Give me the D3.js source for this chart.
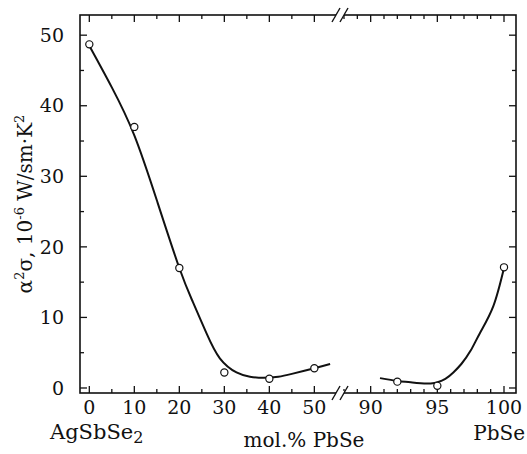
<!DOCTYPE html>
<html>
<head>
<meta charset="utf-8">
<script src="https://cdn.jsdelivr.net/npm/d3@7"></script>
<style>
  body { margin: 0; background: #fff; }
</style>
</head>
<body>
<div id="chart"></div>
<script>
// measured points (mol.% PbSe, power factor 10^-6 W/sm*K^2)
const pointX = [0, 10, 20, 30, 40, 50, 92, 95, 100];
const pointY = [48.7, 37.0, 17.0, 2.2, 1.3, 2.8, 0.9, 0.3, 17.1];

// hand-drawn fit line
const fitLeftX = [0, 5, 10, 15, 20, 23, 26, 29, 32.7, 35.7, 38.7, 42, 45, 50, 53.5];
const fitLeftY = [48.5, 42.6, 35.8, 26.6, 17.0, 12.2, 7.8, 4.2, 2.2, 1.6, 1.45, 1.6, 2.0, 2.8, 3.4];
const fitRightX = [90.7, 92, 93, 94.5, 95.6, 96.2, 96.8, 97.5, 98.2, 99.2, 100];
const fitRightY = [1.4, 1.0, 0.8, 0.65, 1.3, 2.2, 3.4, 5.3, 7.8, 11.6, 17.0];

const leftTicks = [0, 10, 20, 30, 40, 50];
const rightTicks = [90, 95, 100];
const yTicks = [0, 10, 20, 30, 40, 50];

const W = 527, H = 454;
const frame = { left: 80, right: 516, top: 15, bottom: 393 };
const breakX = 340;
// only DejaVu Serif resolves to a real serif face here
const serif = "DejaVu Serif, serif";

const svg = d3.select('#chart').append('svg')
    .attr('width', W).attr('height', H)
    .style('font-family', serif);

// two x scales either side of the break
const xL = d3.scaleLinear().domain([-2.07, 55.7]).range([frame.left, breakX]);
const xR = d3.scaleLinear().domain([87.7, 100.9]).range([breakX, frame.right]);
const xAny = v => v < 70 ? xL(v) : xR(v);
const y = d3.scaleLinear().domain([-0.71, 52.86]).range([frame.bottom, frame.top]);

// frame
svg.append('rect')
    .attr('x', frame.left).attr('y', frame.top)
    .attr('width', frame.right - frame.left).attr('height', frame.bottom - frame.top)
    .attr('fill', 'none').attr('stroke', '#111').attr('stroke-width', 1.6);

// inward ticks on all four sides
const tickG = svg.append('g').attr('stroke', '#111').attr('stroke-width', 1.3);
function xTick(px, len) {
    tickG.append('line').attr('x1', px).attr('x2', px).attr('y1', frame.bottom).attr('y2', frame.bottom - len);
    tickG.append('line').attr('x1', px).attr('x2', px).attr('y1', frame.top).attr('y2', frame.top + len);
}
function yTick(py, len) {
    tickG.append('line').attr('x1', frame.left).attr('x2', frame.left + len).attr('y1', py).attr('y2', py);
    tickG.append('line').attr('x1', frame.right).attr('x2', frame.right - len).attr('y1', py).attr('y2', py);
}
d3.range(0, 55, 5).forEach(v => xTick(xL(v), v % 10 === 0 ? 7 : 4));
d3.range(88, 101, 1).forEach(v => xTick(xR(v), v % 5 === 0 ? 7 : 4));
d3.range(0, 51, 5).forEach(v => yTick(y(v), v % 10 === 0 ? 7 : 4));

// axis break marks
[frame.top, frame.bottom].forEach(yy => {
    svg.append('rect').attr('x', breakX - 4).attr('y', yy - 2).attr('width', 8).attr('height', 4).attr('fill', '#fff');
    [-4, 4].forEach(dx => {
        svg.append('line')
            .attr('x1', breakX + dx - 4).attr('y1', yy + 7)
            .attr('x2', breakX + dx + 4).attr('y2', yy - 7)
            .attr('stroke', '#111').attr('stroke-width', 1.4);
    });
});

// tick labels
svg.selectAll('.ylab').data(yTicks).join('text')
    .attr('class', 'ylab')
    .attr('x', 64).attr('y', d => y(d)).attr('dy', '0.35em')
    .attr('text-anchor', 'end').attr('font-size', '19px').attr('fill', '#111')
    .text(d => d);

svg.selectAll('.xlabL').data(leftTicks).join('text')
    .attr('class', 'xlabL')
    .attr('x', d => xL(d)).attr('y', 414)
    .attr('text-anchor', 'middle').attr('font-size', '19px').attr('fill', '#111')
    .text(d => d);

svg.selectAll('.xlabR').data(rightTicks).join('text')
    .attr('class', 'xlabR')
    .attr('x', d => xR(d)).attr('y', 414)
    .attr('text-anchor', 'middle').attr('font-size', '19px').attr('fill', '#111')
    .text(d => d);

// axis titles
const ag = svg.append('text').attr('x', 50).attr('y', 439).attr('font-size', '21px').attr('fill', '#111');
ag.append('tspan').text('AgSbSe');
ag.append('tspan').attr('font-size', '16px').attr('dy', 4).text('2');

svg.append('text').attr('x', 304).attr('y', 447)
    .attr('text-anchor', 'middle').attr('font-size', '20px').attr('fill', '#111')
    .text('mol.% PbSe');

svg.append('text').attr('x', 525).attr('y', 440)
    .attr('text-anchor', 'end').attr('font-size', '20px').attr('fill', '#111')
    .text('PbSe');

const yl = svg.append('text')
    .attr('transform', 'translate(32,204) rotate(-90)')
    .attr('text-anchor', 'middle').attr('font-size', '20px').attr('fill', '#111');
yl.append('tspan').text('α');
yl.append('tspan').attr('font-size', '13px').attr('dy', -8).text('2');
yl.append('tspan').attr('dy', 8).text('σ, 10');
yl.append('tspan').attr('font-size', '13px').attr('dy', -8).text('-6');
yl.append('tspan').attr('dy', 8).text(' W/sm·K');
yl.append('tspan').attr('font-size', '13px').attr('dy', -8).text('2');

// fit curves
const line = d3.line().curve(d3.curveNatural);
svg.append('path')
    .attr('d', line(fitLeftX.map((v, i) => [xL(v), y(fitLeftY[i])])))
    .attr('fill', 'none').attr('stroke', '#111').attr('stroke-width', 2);
svg.append('path')
    .attr('d', line(fitRightX.map((v, i) => [xR(v), y(fitRightY[i])])))
    .attr('fill', 'none').attr('stroke', '#111').attr('stroke-width', 2);

// open circle markers
svg.selectAll('.pt').data(pointX).join('circle')
    .attr('class', 'pt')
    .attr('cx', d => xAny(d))
    .attr('cy', (d, i) => y(pointY[i]))
    .attr('r', 3.6)
    .attr('fill', '#fff').attr('stroke', '#111').attr('stroke-width', 1.2);
</script>
</body>
</html>
